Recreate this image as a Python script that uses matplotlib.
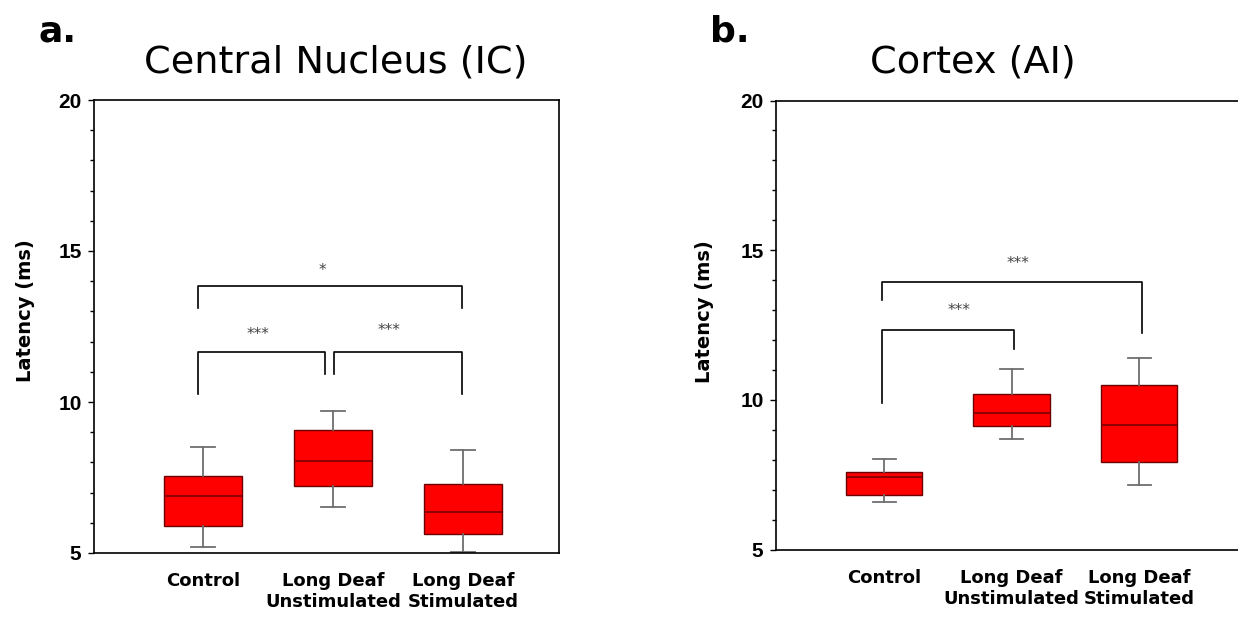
import matplotlib
matplotlib.use("Agg")
import matplotlib.pyplot as plt
from matplotlib.ticker import MultipleLocator

# data (latency, ms)
groups = ["Control", "Long Deaf\nUnstimulated", "Long Deaf\nStimulated"]

ic_whislo = [5.19, 6.53, 5.04]
ic_q1 = [5.89, 7.21, 5.63]
ic_med = [6.89, 8.05, 6.37]
ic_q3 = [7.55, 9.06, 7.29]
ic_whishi = [8.52, 9.70, 8.40]

ai_whislo = [6.60, 8.68, 7.15]
ai_q1 = [6.83, 9.14, 7.92]
ai_med = [7.43, 9.55, 9.15]
ai_q3 = [7.59, 10.19, 10.50]
ai_whishi = [8.01, 11.02, 11.40]

# brackets: (x_left, x_right, y_top, y_left_end, y_right_end, label, x_text, y_text)
ic_brackets = [
    (0.96, 2.99, 13.84, 13.10, 13.10, "*", 1.92, 14.37),
    (0.96, 1.94, 11.67, 10.26, 10.93, "***", 1.42, 12.25),
    (2.01, 2.99, 11.67, 10.93, 10.26, "***", 2.43, 12.38),
]
ai_brackets = [
    (0.98, 3.02, 13.93, 13.34, 12.22, "***", 2.05, 14.56),
    (0.98, 2.02, 12.33, 9.88, 11.71, "***", 1.59, 12.98),
]

W, H = 1238, 628
fig = plt.figure(figsize=(W / 100, H / 100), dpi=100)
fig.patch.set_facecolor("white")


def panel(rect, whislo, q1, med, q3, whishi, brackets, xlim, lab_xy):
    ax = fig.add_axes(rect)
    stats = [dict(whislo=a, q1=b, med=c, q3=d, whishi=e)
             for a, b, c, d, e in zip(whislo, q1, med, q3, whishi)]
    ax.bxp(stats, positions=[1, 2, 3], widths=0.6, showfliers=False,
           patch_artist=True,
           boxprops=dict(facecolor="#ff0000", edgecolor="#6a0000", linewidth=1.0),
           medianprops=dict(color="#7a0000", linewidth=1.2),
           whiskerprops=dict(color="#6e6e6e", linewidth=1.3),
           capprops=dict(color="#6e6e6e", linewidth=1.3),
           capwidths=0.18)
    for xl, xr, yt, yl, yr, txt, xt, yt_txt in brackets:
        ax.plot([xl, xl, xr, xr], [yl, yt, yt, yr], color="black", lw=1.2)
        ax.text(xt, yt_txt, txt, ha="center", va="center", fontsize=11,
                color="#444444")
    ax.set_ylim(5, 20)
    ax.set_xlim(*xlim)
    ax.yaxis.set_major_locator(MultipleLocator(5))
    ax.yaxis.set_minor_locator(MultipleLocator(1))
    ax.tick_params(axis="y", which="major", direction="out", length=4,
                   width=1, pad=5, labelsize=15)
    ax.tick_params(axis="y", which="minor", direction="out", length=3, width=1)
    for lab in ax.get_yticklabels():
        lab.set_fontweight("bold")
        lab.set_family("Liberation Sans")
    ax.set_xticks([1, 2, 3])
    ax.set_xticklabels(groups, fontsize=13, fontweight="bold")
    ax.tick_params(axis="x", length=0, pad=14)
    ax.set_ylabel("Latency (ms)", fontsize=14, fontweight="bold", va="center")
    ax.yaxis.set_label_coords(*lab_xy)
    for s in ax.spines.values():
        s.set_linewidth(1.2)
    return ax


panel([94 / W, 75 / H, 465 / W, 453 / H], ic_whislo, ic_q1, ic_med, ic_q3,
      ic_whishi, ic_brackets, (0.16, 3.74), (-0.148, 0.534))
panel([776 / W, 78.5 / H, 464 / W, 449 / H], ai_whislo, ai_q1, ai_med, ai_q3,
      ai_whishi, ai_brackets, (0.153, 3.79), (-0.154, 0.53))

fig.text(336 / W, 1 - 62 / H, "Central Nucleus (IC)", fontsize=27.5,
         ha="center", va="center")
fig.text(973 / W, 1 - 62 / H, "Cortex (AI)", fontsize=27.5,
         ha="center", va="center")
fig.text(38 / W, 1 - 41 / H, "a.", fontsize=26, fontweight="bold",
         ha="left", va="baseline")
fig.text(710 / W, 1 - 41 / H, "b.", fontsize=26, fontweight="bold",
         ha="left", va="baseline")

fig.savefig("out.png", dpi=100)
